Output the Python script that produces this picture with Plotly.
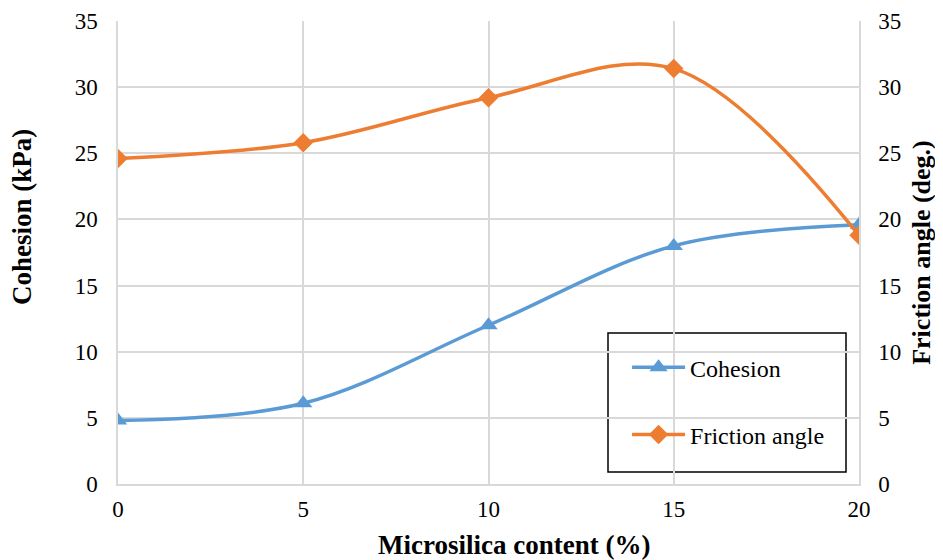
import plotly.graph_objects as go

content = [0, 5, 10, 15, 20]
cohesion = [4.8, 6.1, 12.0, 18.0, 19.6]
friction = [24.6, 25.8, 29.2, 31.4, 18.8]
y_ticks = [0, 5, 10, 15, 20, 25, 30, 35]

blue = "#5B9BD5"
orange = "#ED7D31"
font = "Liberation Serif, Times New Roman, serif"

fig = go.Figure()
fig.add_trace(go.Scatter(
    x=content, y=cohesion, name="Cohesion", mode="lines+markers",
    line=dict(color=blue, width=3.5, shape="spline", smoothing=1.0),
    marker=dict(symbol="triangle-up", size=16, color=blue),
    legendgroup="a", yaxis="y"))
fig.add_trace(go.Scatter(
    x=content, y=friction, name="Friction angle", mode="lines+markers",
    line=dict(color=orange, width=3.5, shape="spline", smoothing=1.0),
    marker=dict(symbol="diamond", size=15, color=orange),
    legendgroup="b", yaxis="y2"))

grid = "#D9D9D9"
tick_font = dict(size=23, family=font, color="black")
title_font = dict(size=27, family=font, color="black")
fig.update_layout(
    width=935, height=552,
    margin=dict(l=110, r=84, t=13, b=76),
    paper_bgcolor="white", plot_bgcolor="white",
    font=dict(family=font, size=23, color="black"),
    showlegend=True,
    legend=dict(x=0.687, y=0.300, xanchor="left", yanchor="top",
                bgcolor="rgba(0,0,0,0)", borderwidth=0,
                font=dict(size=24, family=font, color="black"),
                itemwidth=53,
                traceorder="grouped", tracegroupgap=33),
    xaxis=dict(range=[0, 20], tickvals=content, showgrid=True,
               gridcolor=grid, gridwidth=1.5, zeroline=False,
               showline=True, linecolor=grid, linewidth=1.5, ticks="",
               tickfont=tick_font, ticklabelstandoff=4, automargin=False),
    yaxis=dict(range=[0, 35], tickvals=y_ticks, showgrid=True,
               gridcolor=grid, gridwidth=1.5, zeroline=False,
               showline=True, linecolor=grid, linewidth=1.5, ticks="",
               tickfont=tick_font, ticklabelstandoff=14, automargin=False),
    yaxis2=dict(range=[0, 35], tickvals=y_ticks, overlaying="y", side="right",
                showgrid=False, zeroline=False, showline=True,
                linecolor=grid, linewidth=1.5, ticks="",
                tickfont=tick_font, ticklabelstandoff=13, automargin=False,
                title=dict(text="<b>Friction angle (deg.)</b>",
                           font=dict(size=26, family=font, color="black"),
                           standoff=11)),
    annotations=[
        dict(text="<b>Microsilica content (%)</b>", xref="paper", yref="paper",
             x=(514 - 118) / 741, y=(484 - 545) / 463,
             xanchor="center", yanchor="middle", showarrow=False,
             font=title_font),
        dict(text="<b>Cohesion (kPa)</b>", xref="paper", yref="paper",
             x=(22 - 118) / 741, y=(484 - 217) / 463, textangle=-90,
             xanchor="center", yanchor="middle", showarrow=False,
             font=title_font),
    ],
    shapes=[dict(type="rect", xref="paper", yref="paper",
                 x0=(608 - 118) / 741, x1=(846 - 118) / 741,
                 y0=(484 - 472) / 463, y1=(484 - 333) / 463,
                 line=dict(color="black", width=1.5),
                 fillcolor="white", layer="below")],
)

fig.write_html("out.html")
